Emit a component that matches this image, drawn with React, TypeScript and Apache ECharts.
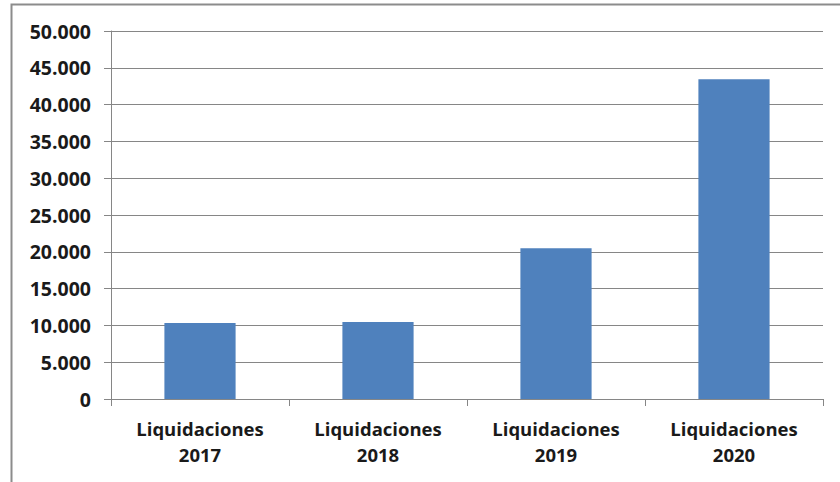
import React, { useEffect, useRef } from "react";
import * as echarts from "echarts";

const categories = ["Liquidaciones\n2017", "Liquidaciones\n2018", "Liquidaciones\n2019", "Liquidaciones\n2020"];
const values = [10320, 10450, 20480, 43450];
const yMin = 0;
const yMax = 50000;
const yInterval = 5000;

function fmt(v: number): string {
  return String(Math.round(v)).replace(/\B(?=(\d{3})+(?!\d))/g, ".");
}

export default function App() {
  const ref = useRef<HTMLDivElement>(null);
  useEffect(() => {
    if (!ref.current) return;
    const chart = echarts.init(ref.current, null, { renderer: "svg" });
    const font = "'Open Sans', 'Liberation Sans', sans-serif";
    chart.setOption({
      animation: false,
      backgroundColor: "#ffffff",
      textStyle: { fontFamily: font },
      grid: { left: 111, right: 17, top: 31, bottom: 83, containLabel: false },
      graphic: [
        {
          type: "rect",
          shape: { x: 11.5, y: 4.5, width: 900, height: 600 },
          style: { fill: "none", stroke: "#8c8c8c", lineWidth: 2 },
          silent: true,
        },
      ],
      xAxis: {
        type: "category",
        data: categories,
        axisLine: { show: true, lineStyle: { color: "#868686", width: 1 } },
        axisTick: { show: true, alignWithLabel: false, length: 7, lineStyle: { color: "#868686" } },
        axisLabel: {
          color: "#1a1a1a",
          fontFamily: font,
          fontWeight: "bold",
          fontSize: 18.5,
          lineHeight: 26,
          margin: 16,
        },
        splitLine: { show: false },
      },
      yAxis: {
        type: "value",
        min: yMin,
        max: yMax,
        interval: yInterval,
        axisLine: { show: true, lineStyle: { color: "#868686", width: 1 } },
        axisTick: { show: true, length: 7, lineStyle: { color: "#868686" } },
        axisLabel: {
          color: "#1a1a1a",
          fontFamily: font,
          fontWeight: "bold",
          fontSize: 19.5,
          margin: 20,
          formatter: (v: number) => fmt(v),
        },
        splitLine: { show: true, lineStyle: { color: "#868686", width: 1 } },
      },
      series: [
        {
          type: "bar",
          data: values,
          barWidth: "40%",
          itemStyle: { color: "#4f81bd" },
        },
      ],
    });
    return () => chart.dispose();
  }, []);
  return (
    <div
      ref={ref}
      style={{ position: "fixed", left: 0, top: 0, width: 840, height: 482 }}
    />
  );
}
